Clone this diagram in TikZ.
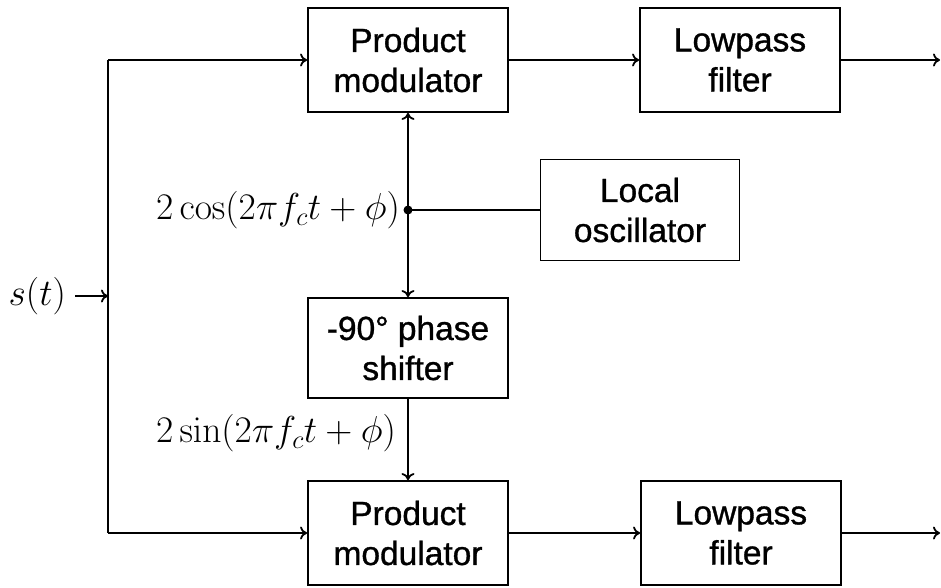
\RequirePackage{fix-cm}
\documentclass[tikz,border=0pt]{standalone}
\usepackage[no-math]{fontspec}
\setmainfont{Liberation Sans}[FakeBold=1.0]
\usetikzlibrary{arrows.meta}
\begin{document}
\begin{tikzpicture}[x=1pt,y=-1pt,
  blk/.style={draw, line width=1.8pt, minimum width=200pt, minimum height=104pt,
    align=center, inner sep=0pt, font=\fontsize{33.5}{40}\selectfont},
  wire/.style={line width=1.8pt},
  arr/.style={wire, -{To[length=7pt,width=13pt]}},
  mathlbl/.style={inner sep=0pt, font=\fontsize{37.5}{44}\selectfont},
  junction/.style={circle, fill, inner sep=0pt, minimum size=9pt}]
\useasboundingbox (0,0) rectangle (941,587);

% blocks
\node[blk] (pm1) at (408,60) {Product\\modulator};
\node[blk] (lp1) at (740,60) {Lowpass\\filter};
\node[blk, minimum width=199pt, minimum height=101pt] (lo) at (640,210) {Local\\oscillator};
\node[blk, minimum height=100pt] (ps) at (408,348) {-90° phase\\shifter};
\node[blk] (pm2) at (408,533) {Product\\modulator};
\node[blk] (lp2) at (741,533) {Lowpass\\filter};

% input, split and outputs
\node[mathlbl, anchor=east] (s) at (66,296) {$s(t)$};
\coordinate (split) at (108,296);
\coordinate (out1) at (940,60);
\coordinate (out2) at (940,533);
\node[junction] (j) at (408,210) {};

% connectors
\draw[arr] ([xshift=9pt]s.east) -- (split);
\draw[wire] (split |- pm1) -- (split |- pm2);
\draw[arr] (split |- pm1) -- (pm1.west);
\draw[arr] (split |- pm2) -- (pm2.west);
\draw[arr] (pm1) -- (lp1);
\draw[arr] (lp1) -- (out1);
\draw[arr] (pm2) -- (lp2);
\draw[arr] (lp2) -- (out2);
\draw[wire] (j.center) -- (lo.west);
\draw[arr] (j.center) -- (pm1.south);
\draw[arr] (j.center) -- (ps.north);
\draw[arr] (ps) -- (pm2);

% carrier labels
\node[mathlbl, anchor=east] (cosl) at (400,210) {$2\cos(2\pi f_c t+\phi)$};
\node[mathlbl, anchor=east] (sinl) at (396,433) {$2\sin(2\pi f_c t+\phi)$};
\end{tikzpicture}
\end{document}
